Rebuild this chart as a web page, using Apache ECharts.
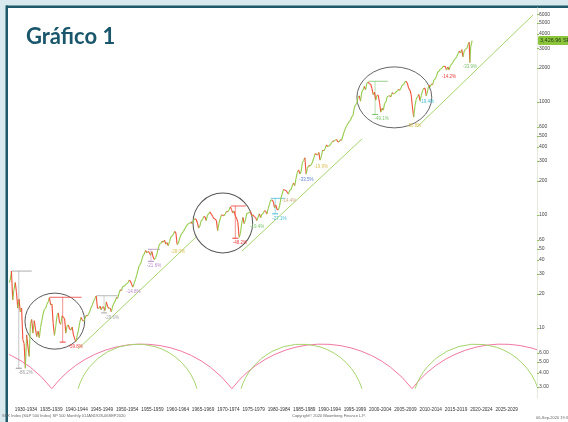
<!DOCTYPE html>
<html><head><meta charset="utf-8">
<script src="https://cdn.jsdelivr.net/npm/echarts@6/dist/echarts.min.js"></script>
<style>html,body{margin:0;padding:0;background:#fff}#c{width:568px;height:422px}</style>
</head><body><div id="c"></div>
<script>
// ---- axis labels ----
const periodLabels = ['1930-1934','1935-1939','1940-1944','1945-1949','1950-1954','1955-1959','1960-1964','1965-1969','1970-1974','1975-1979','1980-1984','1985-1989','1990-1994','1995-1999','2000-2004','2005-2009','2010-2014','2015-2019','2020-2024','2025-2029'];
const periodCenters = [1932.5,1937.5,1942.5,1947.5,1952.5,1957.5,1962.5,1967.5,1972.5,1977.5,1982.5,1987.5,1992.5,1997.5,2002.5,2007.5,2012.5,2017.5,2022.5,2027.5];
const yTickValues = [3,4,5,6,10,20,30,40,50,60,100,200,300,400,500,600,1000,2000,3000,4000,5000,6000];
const yTickLabels = ['3.00','4.00','5.00','6.00','10','20','30','40','50','60','100','200','300','400','500','600','1000','2000','3000','4000','5000','6000'];

// ---- S&P 500, quarterly (Q1..Q4 per year) from 1929 ----
const quarterStartYear = 1929;
const spxQuarterly = [
 25.2,26.5,31.9,17.7, 22.0,25.3,20.5,15.0, 18.0,13.9,15.0,7.9, 7.3,4.4,8.7,6.9, 5.6,10.9,11.9,9.0,
 11.6,9.8,8.4,9.4, 8.2,10.1,11.6,13.3, 14.6,14.9,16.2,17.0, 18.6,16.0,16.3,10.9, 8.6,10.3,12.8,13.6,
 11.2,10.8,12.8,12.4, 12.1,9.0,10.5,10.6, 9.8,9.6,10.2,8.7, 8.0,7.6,8.6,9.6, 11.2,12.4,11.8,11.5,
 12.0,12.9,12.8,13.3, 14.1,15.2,16.0,17.4, 18.2,19.2,15.0,14.9, 15.6,14.5,15.4,15.2, 14.3,17.0,15.5,14.9,
 15.0,13.9,15.6,16.6, 17.3,18.6,18.3,20.2, 21.8,21.4,23.3,23.4, 24.0,24.7,25.0,26.4, 26.1,24.4,23.0,24.8,
 26.8,29.2,32.3,35.6, 36.6,39.8,43.7,45.2, 48.5,46.3,47.5,46.7, 44.1,47.4,42.4,40.3, 42.1,45.2,50.1,55.2,
 56.0,58.5,57.5,59.9, 55.3,57.0,53.5,58.1, 64.0,65.0,67.5,71.6, 69.5,54.8,56.3,62.3, 66.6,69.4,71.7,75.0,
 79.0,81.7,84.2,84.5, 86.8,84.0,89.9,92.4, 91.8,85.5,76.6,80.3, 89.0,90.7,96.7,96.5, 89.1,99.6,102.7,106.5,
 101.5,97.7,93.1,92.1, 89.6,72.7,84.2,92.2, 100.3,99.7,98.3,102.1, 107.2,107.1,110.6,118.1, 111.7,104.3,108.4,97.6,
 93.9,86.0,63.5,68.6, 83.4,95.2,83.9,90.2, 102.8,104.3,105.2,107.5, 98.4,100.5,96.5,95.1, 89.2,95.5,102.5,94.7,
 101.6,102.9,109.3,107.9, 102.1,114.2,125.5,135.8, 136.0,131.2,116.2,122.6, 111.9,111.0,120.4,140.6, 152.9,168.1,166.1,164.9,
 159.2,153.2,166.1,167.2, 180.7,191.9,182.1,211.3, 238.9,250.8,231.3,242.2, 291.7,304.0,321.8,230.3, 258.9,273.5,271.9,277.7,
 294.9,317.9,349.2,346.0, 339.9,358.0,306.1,330.2, 375.2,371.2,387.9,417.1, 403.7,408.1,417.8,435.7, 451.7,450.5,458.9,466.5,
 445.8,444.3,462.7,459.3, 500.7,544.8,584.4,615.9, 645.5,670.6,687.3,740.7, 757.1,885.1,947.3,970.4, 1101.8,1133.8,1017.0,1229.2,
 1286.4,1372.7,1282.7,1469.3, 1498.6,1454.6,1436.5,1320.3, 1160.3,1224.4,1040.9,1148.1, 1147.4,989.8,815.3,879.8, 848.2,974.5,995.9,1111.9,
 1126.2,1140.8,1114.6,1211.9, 1180.6,1191.3,1228.8,1248.3, 1294.8,1270.2,1335.9,1418.3, 1420.9,1503.4,1526.8,1468.4, 1322.7,1280.0,1166.4,903.3,
 735.1,919.3,1057.1,1115.1, 1169.4,1030.7,1141.2,1257.6, 1325.8,1320.6,1131.4,1257.6, 1408.5,1362.2,1440.7,1426.2, 1569.2,1606.3,1681.6,1848.4,
 1872.3,1960.2,1972.3,2058.9, 2067.9,2063.1,1920.0,2043.9, 1932.2,2098.9,2168.3,2238.8, 2362.7,2423.4,2519.4,2673.6, 2823.8,2718.4,2913.9,2506.9,
 2834.4,2941.8,2976.7,3230.8
];
const spx2020Dates = [2020.1, 2020.22, 2020.4, 2020.55, 2020.67];
const spx2020Values = [3380, 2237, 3100, 3271, 3500];
const lastTagText = '3,426.96 SP 500';

// ---- trend segments [startYear, startValue, endYear, endValue] ----
const trendSegments = [[1942.8, 6.52, 1966.1, 63.8], [1975.2, 48, 1998.9, 471], [2009.8, 601, 2032.7, 5890]];
// ---- cycle arcs [startYear, endYear] ----
const pinkCycles = [[1902.0, 1937.6], [1937.6, 1973.2], [1973.2, 2008.8], [2008.8, 2044.4]];
const greenCycles = [[1942.8, 1966.3], [1975.0, 1998.9], [2009.4, 2033.7]];
const cycleBase = 2.9, cyclePeak = 7.2;
// ---- circles [centerYear, centerValue, radiusYears, radiusDecades] ----
const circles = [[1938.2, 11.5, 5.9, 0.248], [1971.4, 85, 5.9, 0.265], [2005.3, 1100, 7.4, 0.27]];
// ---- drawdown annotations ----
const ddPeakYears  = [1929.7, 1937.2, 1946.4, 1953.0, 1956.6, 1961.95, 1973.0, 1976.7, 1980.9, 1983.8, 1987.65, 1990.5, 2000.2, 2007.8, 2011.3, 2015.4, 2020.13];
const ddPeakValues = [31.9, 18.7, 19.3, 26.7, 49.7, 72.6, 120.2, 107.8, 140.5, 172.6, 336.8, 368.9, 1527, 1565, 1364, 2131, 3393];
const ddLowYears   = [1932.45, 1942.3, 1949.45, 1953.7, 1957.8, 1962.5, 1974.75, 1978.2, 1982.6, 1984.5, 1987.9, 1990.8, 2002.8, 2009.2, 2011.75, 2016.1, 2020.22];
const ddLowValues  = [4.4, 7.5, 13.6, 22.7, 38.9, 52.3, 62.3, 86.9, 102.4, 147.8, 223.9, 295.5, 776, 676, 1099, 1829, 2237];
const ddLabels     = ['-86.2%','-59.8%','-29.6%','-14.8%','-21.6%','-28.0%','-48.2%','-19.4%','-27.1%','-14.4%','-33.5%','-19.9%','-49.1%','-56.8%','-19.4%','-14.2%','-33.9%'];
const ddColors     = ['#9a9a9a','#ee3b3b','#a8a8a8','#b98bc8','#b98bc8','#d9c45a','#ee3b3b','#7cc46e','#45bcd6','#cfae84','#5b7fd6','#d9c45a','#7cc46e','#d9c45a','#45bcd6','#ee3b3b','#7cc46e'];
const ddBracket    = [true, true, true, false, true, false, true, false, true, false, false, false, true, false, false, false, false];

const upColor = '#96cb4c', downColor = '#f0503a';
const xMin = 1929.14, xMax = 2033.5, yMin = 2.4, yMax = 6800;

// build price points
const priceDates = spxQuarterly.map((v, i) => quarterStartYear + 0.125 + i * 0.25).concat(spx2020Dates);
const priceValues = spxQuarterly.concat(spx2020Values);
const segments = [];
for (let i = 0; i < priceValues.length - 1; i++) {
  segments.push([priceDates[i], priceValues[i], priceDates[i + 1], priceValues[i + 1]]);
}

const chart = echarts.init(document.getElementById('c'));
const smallFont = "'Liberation Sans',Arial,sans-serif";

function arcItem(color) {
  return function (params, api) {
    const p0 = api.coord([api.value(0), cycleBase]);
    const p1 = api.coord([api.value(1), cycleBase]);
    const pk = api.coord([(api.value(0) + api.value(1)) / 2, cyclePeak]);
    const c = (p1[0] - p0[0]) / 2, s = p0[1] - pk[1];
    const R = (c * c + s * s) / (2 * s);
    const th = Math.asin(Math.min(1, c / R));
    return {
      type: 'arc',
      shape: { cx: (p0[0] + p1[0]) / 2, cy: pk[1] + R, r: R, startAngle: -Math.PI / 2 - th, endAngle: -Math.PI / 2 + th, clockwise: true },
      style: { stroke: color, fill: null, lineWidth: 1 }
    };
  };
}

chart.setOption({
  animation: false,
  backgroundColor: '#d9eaef',
  graphic: [
    { type: 'rect', z: -20, shape: { x: 6, y: 6, width: 562, height: 416 }, style: { fill: '#ffffff' } },
    { type: 'rect', z: -19, shape: { x: 6, y: 5.5, width: 562, height: 2.5 }, style: { fill: '#1f5a6b' } },
    { type: 'rect', z: -19, shape: { x: 5.5, y: 5.5, width: 2.5, height: 417 }, style: { fill: '#1f5a6b' } },
    { type: 'text', z: 10, left: 26, top: 26, style: { text: 'Gráfico 1', fill: '#1a566b', font: "bold 22px Lato, 'Open Sans', sans-serif" } },
    { type: 'text', z: 10, left: 2, top: 414, style: { text: 'SPX Index (S&P 500 Index) SP 500 Monthly 01JAN1928-06SEP2020', fill: '#666', font: '4px ' + smallFont } },
    { type: 'text', z: 10, left: 292, top: 414, style: { text: 'Copyright\u00a9 2020 Bloomberg Finance L.P.', fill: '#666', font: '4px ' + smallFont } },
    { type: 'text', z: 10, left: 536, top: 416, style: { text: '06-Sep-2020 19:36:37', fill: '#666', font: '4px ' + smallFont } }
  ],
  grid: { left: 9, right: 31, top: 8, bottom: 24, containLabel: false, outerBoundsMode: 'none' },
  xAxis: {
    type: 'value', min: xMin, max: xMax,
    axisLine: { show: false }, axisTick: { show: false }, splitLine: { show: false },
    axisLabel: {
      customValues: periodCenters, margin: 9, color: '#333', fontSize: 4.7, fontFamily: smallFont,
      showMinLabel: true, showMaxLabel: true, hideOverlap: false,
      formatter: function (v) {
        let best = 0;
        periodCenters.forEach((c, i) => { if (Math.abs(c - v) < Math.abs(periodCenters[best] - v)) best = i; });
        return periodLabels[best];
      }
    }
  },
  yAxis: {
    type: 'log', logBase: 10, position: 'right', min: yMin, max: yMax,
    axisLine: { show: true, lineStyle: { color: '#e4eadc', width: 1 } },
    axisTick: { show: true, customValues: yTickValues, length: 2, lineStyle: { color: '#8fbf55' } },
    splitLine: { show: false },
    axisLabel: {
      customValues: yTickValues, margin: 2, color: '#444', fontSize: 5, fontFamily: smallFont,
      showMinLabel: true, showMaxLabel: true, hideOverlap: false,
      formatter: function (v) {
        let best = 0;
        yTickValues.forEach((t, i) => { if (Math.abs(Math.log(t / v)) < Math.abs(Math.log(yTickValues[best] / v))) best = i; });
        return yTickLabels[best];
      }
    }
  },
  series: [
    { type: 'custom', name: 'pinkCycle', clip: true, z: 2, data: pinkCycles.map(d => [d[0], d[1], cycleBase, cyclePeak]),
      encode: { x: [0, 1], y: [2, 3] }, renderItem: arcItem('#f178a3') },
    { type: 'custom', name: 'greenCycle', clip: true, z: 2, data: greenCycles.map(d => [d[0], d[1], cycleBase, cyclePeak]),
      encode: { x: [0, 1], y: [2, 3] }, renderItem: arcItem('#a8d46e') },
    { type: 'custom', name: 'trend', clip: true, z: 3, data: trendSegments, encode: { x: [0, 2], y: [1, 3] },
      renderItem: function (params, api) {
        const p0 = api.coord([api.value(0), api.value(1)]), p1 = api.coord([api.value(2), api.value(3)]);
        return { type: 'line', shape: { x1: p0[0], y1: p0[1], x2: p1[0], y2: p1[1] }, style: { stroke: '#a8d46e', lineWidth: 1 } };
      } },
    { type: 'custom', name: 'circles', clip: true, z: 3, data: circles, encode: { x: [0], y: [1] },
      renderItem: function (params, api) {
        const cx = api.value(0), cy = api.value(1);
        const c = api.coord([cx, cy]);
        const rx = api.coord([cx + api.value(2), cy])[0] - c[0];
        const ry = c[1] - api.coord([cx, cy * Math.pow(10, api.value(3))])[1];
        return { type: 'circle', x: c[0], y: c[1], scaleY: ry / rx, shape: { cx: 0, cy: 0, r: rx },
          style: { stroke: '#555', fill: null, lineWidth: 1, strokeNoScale: true } };
      } },
    { type: 'custom', name: 'drawdowns', clip: true, z: 4,
      data: ddPeakYears.map((y, i) => [y, ddPeakValues[i], ddLowYears[i], ddLowValues[i]]), encode: { x: [0, 2], y: [1, 3] },
      renderItem: function (params, api) {
        const i = params.dataIndex;
        const pk = api.coord([api.value(0), api.value(1)]);
        const lo = api.coord([api.value(2), api.value(3)]);
        const col = ddColors[i];
        const children = [];
        if (ddBracket[i]) {
          const w = Math.max(10, lo[0] - pk[0] + 6);
          children.push({ type: 'line', shape: { x1: pk[0], y1: pk[1], x2: pk[0] + w, y2: pk[1] }, style: { stroke: col, lineWidth: 1, opacity: 0.8 } });
          const vx = (pk[0] + lo[0]) / 2;
          children.push({ type: 'line', shape: { x1: vx, y1: pk[1], x2: vx, y2: lo[1] }, style: { stroke: col, lineWidth: 0.7, opacity: 0.8 } });
          children.push({ type: 'line', shape: { x1: vx - 3, y1: lo[1], x2: vx + 3, y2: lo[1] }, style: { stroke: col, lineWidth: 1 } });
        }
        children.push({ type: 'text', x: lo[0], y: lo[1] + 2, style: { text: ddLabels[i], fill: col, font: '4.5px ' + smallFont, align: 'center', verticalAlign: 'top' } });
        return { type: 'group', children: children };
      } },
    { type: 'custom', name: 'S&P 500', clip: true, z: 5, data: segments, encode: { x: [0, 2], y: [1, 3] },
      renderItem: function (params, api) {
        const p0 = api.coord([api.value(0), api.value(1)]), p1 = api.coord([api.value(2), api.value(3)]);
        return { type: 'line', shape: { x1: p0[0], y1: p0[1], x2: p1[0], y2: p1[1] },
          style: { stroke: api.value(3) >= api.value(1) ? upColor : downColor, lineWidth: 1.1 } };
      } },
    { type: 'custom', name: 'lastTag', clip: false, z: 6, data: [[xMax, priceValues[priceValues.length - 1]]], encode: { x: [0], y: [1] },
      renderItem: function (params, api) {
        const p = api.coord([api.value(0), api.value(1)]);
        return { type: 'group', children: [
          { type: 'rect', shape: { x: p[0] + 1, y: p[1] - 4.5, width: 40, height: 9, r: 1.5 }, style: { fill: '#8cc43c' } },
          { type: 'text', x: p[0] + 3, y: p[1], style: { text: lastTagText, fill: '#1e3a10', font: '5.5px ' + smallFont, verticalAlign: 'middle' } }
        ] };
      } }
  ]
});
</script>
</body></html>
